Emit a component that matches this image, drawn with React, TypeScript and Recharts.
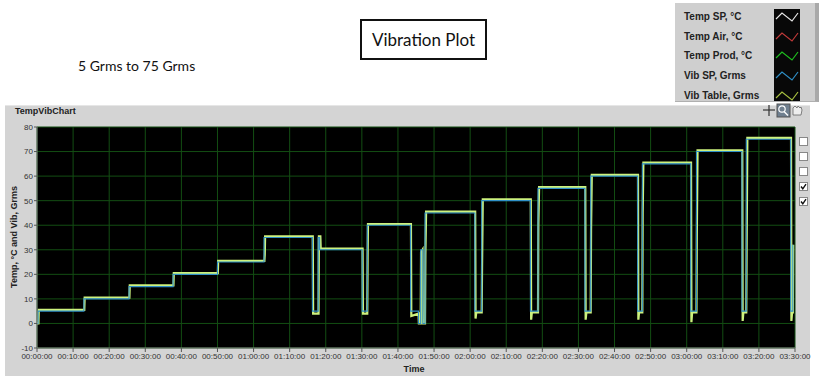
import React from 'react';
import { LineChart, Line, XAxis, YAxis, CartesianGrid } from 'recharts';

// X ticks in minutes (00:00:00 .. 03:30:00)
const xTicks = [0, 10, 20, 30, 40, 50, 60, 70, 80, 90, 100, 110, 120, 130, 140, 150, 160, 170, 180, 190, 200, 210];
const yTicks = [-10, 0, 10, 20, 30, 40, 50, 60, 70, 80];

// Vib SP, Grms (minutes / value)
const vibSpTime = [
  0, 0.3, 0.3, 13.0, 13.0, 25.5, 25.5, 37.7, 37.7, 50.0, 50.0, 62.9, 62.9, 76.3, 76.3, 77.9, 77.9, 78.3, 78.3,
  90.1, 90.1, 91.5, 91.5, 103.5, 103.5, 105.7, 105.7, 106.3, 106.3, 106.9, 106.9, 107.5, 107.5, 121.3, 121.3,
  123.2, 123.2, 136.7, 136.7, 138.8, 138.8, 151.8, 151.8, 153.4, 153.4, 166.4, 166.4, 167.7, 167.7, 181.1, 181.1,
  182.7, 182.7, 195.3, 195.3, 196.5, 196.5, 208.8, 208.8, 209.4, 209.4,
];
const vibSpValue = [
  0, 0, 5, 5, 10, 10, 15, 15, 20, 20, 25, 25, 35, 35, 5, 5, 35, 35, 30,
  30, 5, 5, 40, 40, 5, 5, 0, 0, 30, 30, 0, 0, 45, 45, 5,
  5, 50, 50, 5, 5, 55, 55, 5, 5, 60, 60, 5, 5, 65, 65, 5,
  5, 70, 70, 5, 5, 75, 75, 5, 5, 32,
];

// Vib Table, Grms (minutes / value) - measured, reads a little above set point
const vibTableTime = [
  0, 0.4, 0.5, 13.1, 13.2, 25.6, 25.7, 37.8, 37.9, 50.1, 50.2, 63.0, 63.1, 63.2, 76.4, 76.5, 78.0, 78.1, 78.5, 78.6,
  90.2, 90.3, 91.5, 91.6, 91.7, 103.6, 103.7, 105.7, 105.8, 106.3, 106.4, 106.8, 106.9, 107.5, 107.6, 107.8,
  121.4, 121.5, 121.7, 123.2, 123.3, 123.5, 136.8, 136.9, 137.1, 138.8, 138.9, 139.1, 151.9, 152.0, 152.2,
  153.4, 153.5, 153.7, 166.5, 166.6, 166.8, 167.7, 167.8, 168.0, 181.2, 181.3, 181.5, 182.7, 182.8, 183.0,
  195.4, 195.5, 195.7, 196.5, 196.6, 196.8, 208.9, 209.0, 209.2, 209.4, 209.5,
];
const vibTableValue = [
  0, 0, 5.5, 5.5, 10.5, 10.5, 15.5, 15.5, 20.5, 20.5, 25.5, 25.5, 28, 35.5, 35.5, 4, 4, 35.5, 35.5, 30.5,
  30.5, 4, 4, 27, 40.5, 40.5, 3, 4, 0, 0, 29, 30, 0, 0, 28, 45.5,
  45.5, 2, 4.5, 4.5, 23, 50.5, 50.5, 1.5, 4.5, 4.5, 40, 55.5, 55.5, 1.5, 4.5,
  4.5, 38, 60.5, 60.5, 1.5, 4.5, 4.5, 45, 65.5, 65.5, 0.5, 4.5, 4.5, 35, 70.5,
  70.5, 1, 4.5, 4.5, 30, 75.6, 75.6, 1, 4.5, 4.5, 32,
];

const legendNames = ['Temp SP, °C', 'Temp Air, °C', 'Temp Prod, °C', 'Vib SP, Grms', 'Vib Table, Grms'];
const legendColors = ['#e8e8e8', '#c03a3a', '#1fbf1f', '#2f8fc8', '#a8c040'];
const legendChecked = [false, false, false, true, true];

const vibSpData = vibSpTime.map((t, i) => ({ t, v: vibSpValue[i] }));
const vibTableData = vibTableTime.map((t, i) => ({ t, v: vibTableValue[i] }));

const pad = (n: number) => (n < 10 ? '0' + n : '' + n);
const fmtTime = (m: number) => `${pad(Math.floor(m / 60))}:${pad(m % 60)}:00`;

const uiFont = '"Liberation Sans", Arial, sans-serif';
const docFont = 'Lato, "Open Sans", sans-serif';

export default function App() {
  return (
    <div style={{ position: 'absolute', left: 0, top: 0, width: 819, height: 383, background: '#fff', overflow: 'hidden' }}>
      {/* Title box */}
      <div
        style={{
          position: 'absolute', left: 360, top: 19, width: 123, height: 37, border: '2px solid #111',
          display: 'flex', alignItems: 'center', justifyContent: 'center', fontFamily: docFont, fontSize: 17, color: '#111',
        }}
      >
        Vibration Plot
      </div>
      <div style={{ position: 'absolute', left: 78, top: 57, fontFamily: docFont, fontSize: 14, color: '#111', whiteSpace: 'nowrap' }}>
        5 Grms to 75 Grms
      </div>

      {/* Chart panel */}
      <div style={{ position: 'absolute', left: 5, top: 105, width: 805, height: 270, background: '#d4d4d4', borderTop: '1px solid #e6e6e6' }} />
      <div style={{ position: 'absolute', left: 15, top: 106, fontFamily: uiFont, fontWeight: 700, fontSize: 9, color: '#222' }}>TempVibChart</div>

      <div style={{ position: 'absolute', left: 0, top: 0 }}>
        <LineChart width={819} height={383} margin={{ top: 127, right: 24, bottom: 15, left: 0 }}>
          <CartesianGrid fill="#000" stroke="#134e13" strokeWidth={1} />
          <XAxis
            type="number" dataKey="t" domain={[0, 210]} ticks={xTicks} interval={0} tickFormatter={fmtTime}
            height={20} tickSize={4} tickMargin={1} axisLine={{ stroke: '#888' }} tickLine={{ stroke: '#555' }}
            tick={{ fontSize: 8, fill: '#333', fontFamily: uiFont }} allowDataOverflow
          />
          <YAxis
            type="number" domain={[-10, 80]} ticks={yTicks} interval={0} width={37} tickSize={3} tickMargin={1}
            axisLine={{ stroke: '#888' }} tickLine={{ stroke: '#555' }}
            tick={{ fontSize: 8, fill: '#333', fontFamily: uiFont }} allowDataOverflow
          />
          <Line data={vibTableData} dataKey="v" type="linear" stroke="#cdf27e" strokeWidth={2.2} dot={false} isAnimationActive={false} />
          <Line data={vibSpData} dataKey="v" type="linear" stroke="#2f8fc8" strokeWidth={1.1} dot={false} isAnimationActive={false} />
        </LineChart>
      </div>

      {/* Axis titles */}
      <div
        style={{
          position: 'absolute', left: 14, top: 237, transform: 'translate(-50%, -50%) rotate(-90deg)', whiteSpace: 'nowrap',
          fontFamily: uiFont, fontWeight: 700, fontSize: 9, color: '#222',
        }}
      >
        Temp, °C and Vib, Grms
      </div>
      <div style={{ position: 'absolute', left: 414, top: 369, transform: 'translate(-50%, -50%)', fontFamily: uiFont, fontWeight: 700, fontSize: 9, color: '#222' }}>
        Time
      </div>

      {/* Legend */}
      <div style={{ position: 'absolute', left: 675, top: 3, width: 140, height: 98, background: '#cfcfcf', borderRight: '4px solid #a9a9a9', borderBottom: '1px solid #b0b0b0' }} />
      <div style={{ position: 'absolute', left: 774, top: 9, width: 26, height: 92, background: '#080808' }} />
      {legendNames.map((name, i) => {
        const cy = 17 + i * 19.7;
        return (
          <React.Fragment key={name}>
            <div
              style={{
                position: 'absolute', left: 684, top: cy - 7, height: 14, lineHeight: '14px', fontFamily: uiFont,
                fontWeight: 700, fontSize: 10, color: '#222', whiteSpace: 'nowrap',
              }}
            >
              {name}
            </div>
            <svg style={{ position: 'absolute', left: 774, top: cy - 8 }} width={26} height={16}>
              <polyline points="2,10 8,4 18,12 24,4" fill="none" stroke={legendColors[i]} strokeWidth={1.2} />
            </svg>
          </React.Fragment>
        );
      })}

      {/* Graph palette tools */}
      <svg style={{ position: 'absolute', left: 762, top: 103 }} width={42} height={16}>
        <line x1={7} y1={2} x2={7} y2={13} stroke="#333" strokeWidth={1.2} />
        <line x1={1} y1={7} x2={13} y2={7} stroke="#333" strokeWidth={1.2} />
        <rect x={15} y={1} width={13} height={13} fill="#6f7f8f" stroke="#555" />
        <circle cx={20} cy={6} r={3.2} fill="none" stroke="#fff" strokeWidth={1.2} />
        <line x1={22} y1={8.5} x2={26} y2={12.5} stroke="#fff" strokeWidth={1.5} />
        <path d="M31,12 L31,5 L33,3 L35,5 L36,3 L38,5 L39,4 L40,7 L39,12 Z" fill="#eee" stroke="#666" strokeWidth={0.8} />
      </svg>

      {/* Plot visibility checkboxes */}
      {legendChecked.map((c, i) => (
        <svg key={i} style={{ position: 'absolute', left: 799, top: 137 + i * 15 }} width={10} height={10}>
          <rect x={0.5} y={0.5} width={8} height={8} fill="#fff" stroke="#888" />
          {c && <polyline points="2,4.5 3.8,6.8 7,2.2" fill="none" stroke="#111" strokeWidth={1.4} />}
        </svg>
      ))}
    </div>
  );
}
